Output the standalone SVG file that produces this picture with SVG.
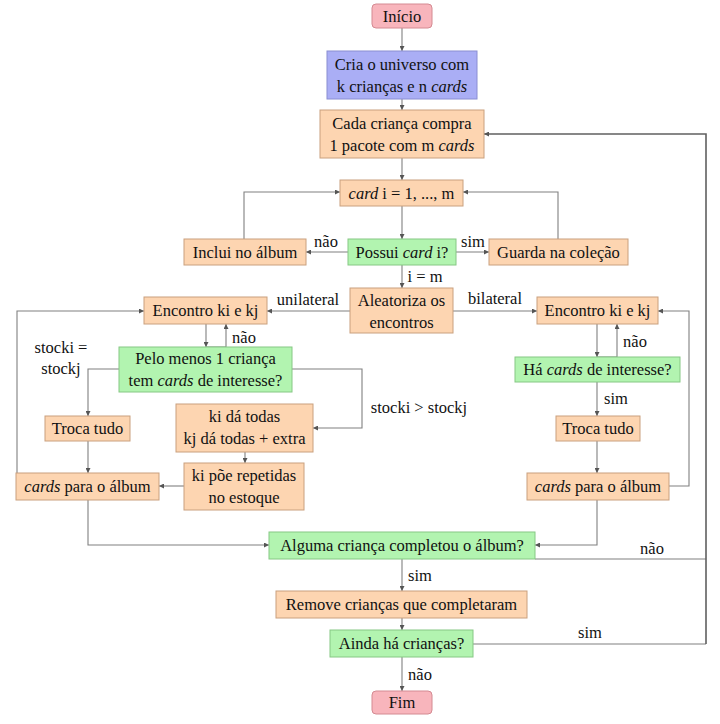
<svg xmlns="http://www.w3.org/2000/svg" width="720" height="724" viewBox="0 0 720 724">
<defs>
<marker id="ah" markerWidth="5" markerHeight="5" refX="5" refY="2.5" orient="auto" markerUnits="userSpaceOnUse">
<path d="M0,0 L5,2.5 L0,5 z" fill="#555"/>
</marker>
<style>
text{font-family:"Liberation Serif","Times New Roman",serif;font-size:16.5px;fill:#111;text-anchor:middle}
.i{font-style:italic}
.o{fill:#fdd5b1;stroke:#c9a07e;stroke-width:1}
.g{fill:#b2f4b0;stroke:#86c884;stroke-width:1}
.p{fill:#f8b5bc;stroke:#d48a92;stroke-width:1}
.b{fill:#aaaef5;stroke:#8a8ed2;stroke-width:1}
.c{fill:none;stroke:#808080;stroke-width:1.1}
.d{fill:none;stroke:#606060;stroke-width:1.6}
</style>
</defs>
<rect width="720" height="724" fill="#fff"/>
<g id="connectors">
<path class="c" d="M402,28 V51" marker-end="url(#ah)"/>
<path class="c" d="M402,99 V110" marker-end="url(#ah)"/>
<path class="c" d="M402,158 V180" marker-end="url(#ah)"/>
<path class="c" d="M402,206 V239" marker-end="url(#ah)"/>
<path class="c" d="M348,252 H306" marker-end="url(#ah)"/>
<path class="c" d="M456,252 H489" marker-end="url(#ah)"/>
<path class="c" d="M244,239 V192 H340" marker-end="url(#ah)"/>
<path class="c" d="M558,239 V192 H463" marker-end="url(#ah)"/>
<path class="c" d="M402,265 V288" marker-end="url(#ah)"/>
<path class="c" d="M350,311 H267" marker-end="url(#ah)"/>
<path class="c" d="M453,311 H537" marker-end="url(#ah)"/>
<path class="c" d="M206,324 V347" marker-end="url(#ah)"/>
<path class="c" d="M206,347 H226 V324" marker-end="url(#ah)"/>
<path class="c" d="M119,369 H88 V416" marker-end="url(#ah)"/>
<path class="c" d="M292,369 H362 V428 H313" marker-end="url(#ah)"/>
<path class="c" d="M245,452 V463" marker-end="url(#ah)"/>
<path class="c" d="M184,486 H159" marker-end="url(#ah)"/>
<path class="c" d="M88,441 V473" marker-end="url(#ah)"/>
<path class="c" d="M17,473 V311 H144" marker-end="url(#ah)"/>
<path class="c" d="M88,500 V545 H269" marker-end="url(#ah)"/>
<path class="c" d="M597,324 V357" marker-end="url(#ah)"/>
<path class="c" d="M597,357 H617 V324" marker-end="url(#ah)"/>
<path class="c" d="M597,382 V416" marker-end="url(#ah)"/>
<path class="c" d="M597,441 V473" marker-end="url(#ah)"/>
<path class="c" d="M669,486 H689 V311 H658" marker-end="url(#ah)"/>
<path class="c" d="M597,500 V545 H535" marker-end="url(#ah)"/>
<path class="c" d="M402,559 V591" marker-end="url(#ah)"/>
<path class="c" d="M535,559 H706"/>
<path class="c" d="M473,644 H706"/>
<path class="d" d="M706,644 V134 H484" marker-end="url(#ah)"/>
<path class="c" d="M402,618 V630" marker-end="url(#ah)"/>
<path class="c" d="M402,657 V691" marker-end="url(#ah)"/>
<text x="326" y="247">não</text>
<text x="473" y="247">sim</text>
<text x="425" y="282">i = m</text>
<text x="308" y="305">unilateral</text>
<text x="495" y="304">bilateral</text>
<text x="244" y="343">não</text>
<text x="61" y="353">stocki =</text>
<text x="61" y="374">stockj</text>
<text x="419" y="413">stocki &gt; stockj</text>
<text x="635" y="347">não</text>
<text x="616" y="404">sim</text>
<text x="652" y="554">não</text>
<text x="420" y="581">sim</text>
<text x="590" y="638">sim</text>
<text x="420" y="680">não</text>
</g>
<g id="inicio"><rect class="p" x="372" y="4" width="60" height="24" rx="4"/><text x="402" y="21.5">Início</text></g>
<g id="cria"><rect class="b" x="327" y="51" width="150" height="48"/><text x="402" y="69.5">Cria o universo com</text><text x="402" y="91.5">k crianças e n <tspan class="i">cards</tspan></text></g>
<g id="cada"><rect class="o" x="320" y="110" width="164" height="48"/><text x="402" y="128.5">Cada criança compra</text><text x="402" y="150.5">1 pacote com m <tspan class="i">cards</tspan></text></g>
<g id="cardi"><rect class="o" x="340" y="180" width="123" height="26"/><text x="401.5" y="198.5"><tspan class="i">card</tspan> i = 1, ..., m</text></g>
<g id="possui"><rect class="g" x="348" y="239" width="108" height="26"/><text x="402" y="257.5">Possui <tspan class="i">card</tspan> i?</text></g>
<g id="inclui"><rect class="o" x="184" y="239" width="122" height="26"/><text x="245" y="257.5">Inclui no álbum</text></g>
<g id="guarda"><rect class="o" x="489" y="239" width="139" height="26"/><text x="558.5" y="257.5">Guarda na coleção</text></g>
<g id="aleatoriza"><rect class="o" x="350" y="288" width="103" height="45"/><text x="401.5" y="305.5">Aleatoriza os</text><text x="401.5" y="327.5">encontros</text></g>
<g id="encontroL"><rect class="o" x="144" y="297" width="123" height="27"/><text x="205.5" y="316">Encontro ki e kj</text></g>
<g id="encontroR"><rect class="o" x="537" y="297" width="121" height="27"/><text x="597.5" y="316">Encontro ki e kj</text></g>
<g id="pelo"><rect class="g" x="119" y="347" width="173" height="45"/><text x="205.5" y="363.5">Pelo menos 1 criança</text><text x="205.5" y="385.5">tem <tspan class="i">cards</tspan> de interesse?</text></g>
<g id="ha"><rect class="g" x="515" y="357" width="165" height="25"/><text x="597.5" y="375">Há <tspan class="i">cards</tspan> de interesse?</text></g>
<g id="trocaL"><rect class="o" x="45" y="416" width="85" height="25"/><text x="87.5" y="434">Troca tudo</text></g>
<g id="kida"><rect class="o" x="176" y="404" width="137" height="48"/><text x="244.5" y="421.5">ki dá todas</text><text x="244.5" y="443.5">kj dá todas + extra</text></g>
<g id="kipoe"><rect class="o" x="184" y="463" width="120" height="47"/><text x="244" y="480.5">ki põe repetidas</text><text x="244" y="502.5">no estoque</text></g>
<g id="cardsL"><rect class="o" x="16" y="473" width="143" height="27"/><text x="87.5" y="492"><tspan class="i">cards</tspan> para o álbum</text></g>
<g id="trocaR"><rect class="o" x="556" y="416" width="84" height="25"/><text x="598" y="434">Troca tudo</text></g>
<g id="cardsR"><rect class="o" x="527" y="473" width="142" height="27"/><text x="598" y="492"><tspan class="i">cards</tspan> para o álbum</text></g>
<g id="alguma"><rect class="g" x="269" y="532" width="266" height="27"/><text x="402" y="551">Alguma criança completou o álbum?</text></g>
<g id="remove"><rect class="o" x="276" y="591" width="251" height="27"/><text x="401.5" y="610">Remove crianças que completaram</text></g>
<g id="ainda"><rect class="g" x="330" y="630" width="143" height="27"/><text x="401.5" y="649">Ainda há crianças?</text></g>
<g id="fim"><rect class="p" x="372" y="691" width="60" height="23" rx="4"/><text x="402" y="708">Fim</text></g>
</svg>
